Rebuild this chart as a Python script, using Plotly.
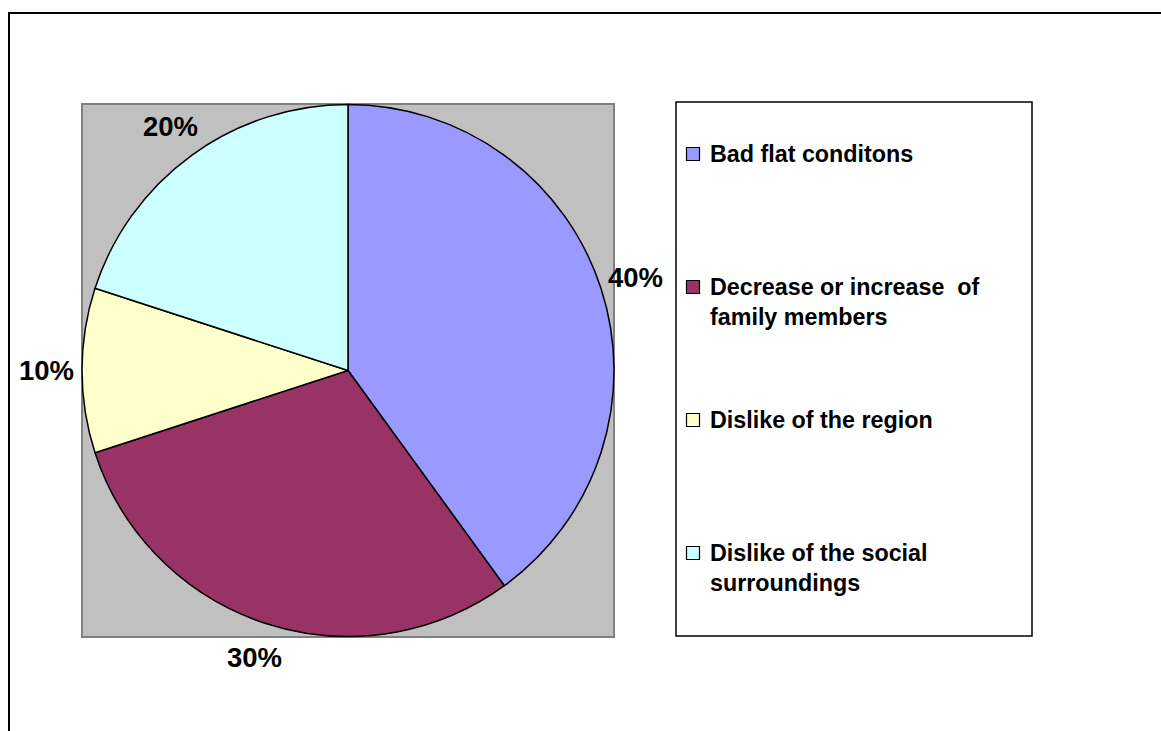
import math
import plotly.graph_objects as go

# Survey results: reasons for moving
categories = [
    "Bad flat conditons",
    "Decrease or increase \u00a0of<br>family members",
    "Dislike of the region",
    "Dislike of the social<br>surroundings",
]
shares = [40, 30, 10, 20]
colors = ["#9999FF", "#993366", "#FFFFCC", "#CCFFFF"]

W, H = 1161, 731
FONT = "Liberation Sans, Arial, sans-serif"

# plot area (pixels) holding the pie
PA_X0, PA_X1, PA_Y0, PA_Y1 = 82, 614, 104, 637


def fx(px):
    return px / W


def fy(py):
    return 1 - py / H


fig = go.Figure()

fig.add_trace(go.Pie(
    labels=categories,
    values=shares,
    sort=False,
    direction="clockwise",
    rotation=0,
    marker=dict(colors=colors, line=dict(color="black", width=1.5)),
    textinfo="none",
    showlegend=False,
    hoverinfo="label+percent",
    domain=dict(x=[fx(PA_X0), fx(PA_X1)], y=[fy(PA_Y1), fy(PA_Y0)]),
))

# percentage labels placed outside each slice at its mid angle
cx = (PA_X0 + PA_X1) / 2
cy = (PA_Y0 + PA_Y1) / 2
radius = min(PA_X1 - PA_X0, PA_Y1 - PA_Y0) / 2
label_r = radius * 1.135
total = sum(shares)
annotations = []
cum = 0
for s in shares:
    mid = (cum + s / 2) / total * 2 * math.pi
    cum += s
    lx = cx + label_r * math.sin(mid)
    ly = cy - label_r * math.cos(mid)
    annotations.append(dict(
        xref="paper", yref="paper", x=fx(lx), y=fy(ly),
        xanchor="center", yanchor="middle",
        text=f"{round(100 * s / total)}%", showarrow=False,
        font=dict(family=FONT, size=27.5, color="black", weight="bold"),
    ))

shapes = [
    # outer chart border
    dict(type="rect", xref="paper", yref="paper",
         x0=fx(9), x1=1.02, y0=-0.02, y1=fy(13),
         line=dict(color="black", width=2), fillcolor="rgba(0,0,0,0)", layer="below"),
    # plot area
    dict(type="rect", xref="paper", yref="paper",
         x0=fx(PA_X0), x1=fx(PA_X1), y0=fy(PA_Y1), y1=fy(PA_Y0),
         line=dict(color="#808080", width=2), fillcolor="#C0C0C0", layer="below"),
    # legend box
    dict(type="rect", xref="paper", yref="paper",
         x0=fx(676), x1=fx(1032), y0=fy(636), y1=fy(102),
         line=dict(color="black", width=1.5), fillcolor="white", layer="below"),
]

legend_fs = 23.3
line_h = legend_fs * 1.3
first_y = 154
step = 133
for i, (label, col) in enumerate(zip(categories, colors)):
    y_line1 = first_y + i * step
    n_lines = label.count("<br>") + 1
    shapes.append(dict(
        type="rect", xref="paper", yref="paper",
        x0=fx(686.5), x1=fx(699.5), y0=fy(y_line1 + 6.5), y1=fy(y_line1 - 6.5),
        line=dict(color="black", width=1.2), fillcolor=col,
    ))
    annotations.append(dict(
        xref="paper", yref="paper",
        x=fx(708), y=fy(y_line1 + (n_lines - 1) * line_h / 2),
        xanchor="left", yanchor="middle", align="left",
        text=label, showarrow=False,
        font=dict(family=FONT, size=legend_fs, color="black", weight="bold"),
    ))

fig.update_layout(
    width=W, height=H,
    margin=dict(l=0, r=0, t=0, b=0),
    paper_bgcolor="white",
    plot_bgcolor="white",
    shapes=shapes,
    annotations=annotations,
)

fig.write_html("out.html")
